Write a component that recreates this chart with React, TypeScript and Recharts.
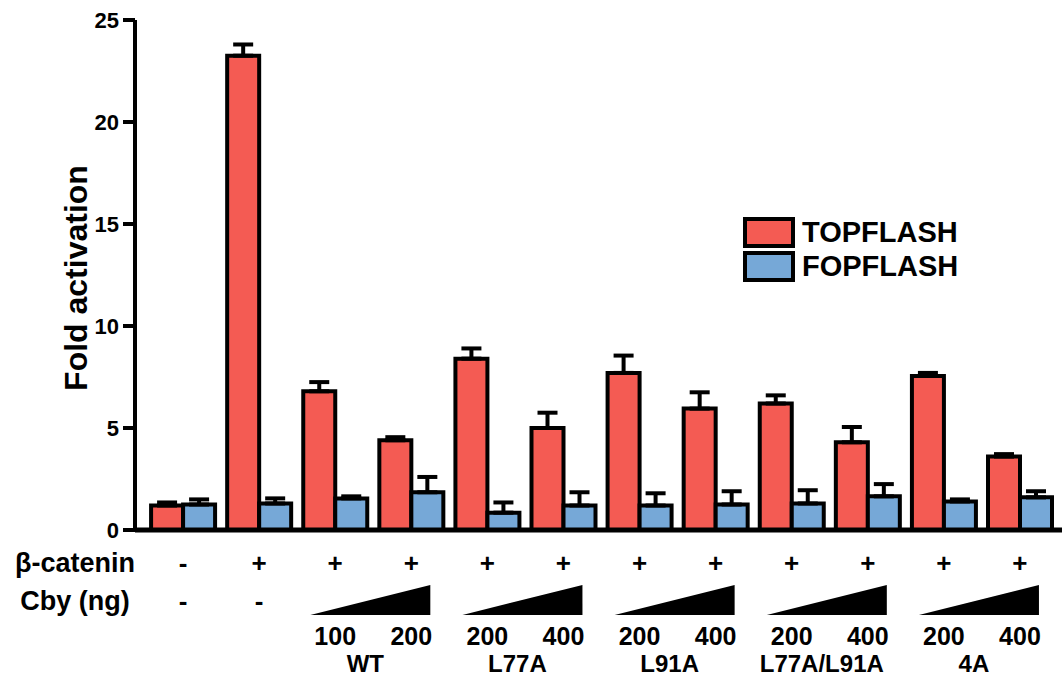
import React from "react";
import { BarChart, Bar, XAxis, YAxis, ErrorBar, Legend } from "recharts";

const betaCatenin = ["-", "+", "+", "+", "+", "+", "+", "+", "+", "+", "+", "+"];
const cbyDose = ["-", "-", "100", "200", "200", "400", "200", "400", "200", "400", "200", "400"];
const mutants = ["", "", "WT", "WT", "L77A", "L77A", "L91A", "L91A", "L77A/L91A", "L77A/L91A", "4A", "4A"];

const topflash = [1.2, 23.25, 6.8, 4.4, 8.4, 5.0, 7.7, 5.95, 6.2, 4.3, 7.55, 3.6];
const topflashErr = [0.15, 0.55, 0.45, 0.15, 0.5, 0.75, 0.85, 0.8, 0.4, 0.75, 0.15, 0.12];
const fopflash = [1.25, 1.3, 1.55, 1.85, 0.85, 1.2, 1.2, 1.25, 1.3, 1.65, 1.4, 1.6];
const fopflashErr = [0.25, 0.25, 0.1, 0.75, 0.5, 0.65, 0.6, 0.65, 0.65, 0.6, 0.1, 0.3];

const yTicks = [0, 5, 10, 15, 20, 25];

const RED = "#F45B53";
const BLUE = "#76A8D7";
const FONT = "'Liberation Sans', Arial, Helvetica, sans-serif";

const data = topflash.map((v, i) => ({
  name: String(i),
  top: v,
  topErr: [0, topflashErr[i]],
  fop: fopflash[i],
  fopErr: [0, fopflashErr[i]],
}));

const txt = { fontFamily: FONT, fontWeight: 700, fill: "#000" } as const;

const CondTick = (props: any) => {
  const { x, y, payload } = props;
  const i = Number(payload.value);
  const isPairEnd = i >= 2 && i % 2 === 1;
  return (
    <g>
      {i === 0 && (
        <>
          <text x={75} y={y + 33} textAnchor="middle" dominantBaseline="central" fontSize={27} {...txt}>
            β-catenin
          </text>
          <text x={75} y={y + 71} textAnchor="middle" dominantBaseline="central" fontSize={27} {...txt}>
            Cby (ng)
          </text>
        </>
      )}
      <text x={x} y={y + 33} textAnchor="middle" dominantBaseline="central" fontSize={26} {...txt}>
        {betaCatenin[i]}
      </text>
      {i < 2 ? (
        <text x={x} y={y + 71} textAnchor="middle" dominantBaseline="central" fontSize={26} {...txt}>
          {cbyDose[i]}
        </text>
      ) : (
        <text x={x} y={y + 106} textAnchor="middle" dominantBaseline="central" fontSize={25} {...txt}>
          {cbyDose[i]}
        </text>
      )}
      {isPairEnd && (
        <>
          <polygon points={`${x - 101},${y + 85} ${x + 19},${y + 55} ${x + 19},${y + 85}`} fill="#000" />
          <text x={x - 46} y={y + 133} textAnchor="middle" dominantBaseline="central" fontSize={24} {...txt}>
            {mutants[i]}
          </text>
        </>
      )}
    </g>
  );
};

const LegendBox = () => (
  <div style={{ fontFamily: FONT, fontWeight: 700, fontSize: 29, lineHeight: "34px" }}>
    {[
      { label: "TOPFLASH", color: RED },
      { label: "FOPFLASH", color: BLUE },
    ].map((it) => (
      <div key={it.label} style={{ display: "flex", alignItems: "center", height: 34 }}>
        <span
          style={{
            display: "inline-block",
            width: 44,
            height: 23,
            background: it.color,
            border: "4px solid #000",
            marginRight: 7,
          }}
        />
        <span>{it.label}</span>
      </div>
    ))}
  </div>
);

export default function App() {
  return (
    <div style={{ position: "absolute", left: 0, top: 0, width: 1062, height: 679, background: "#fff" }}>
      <BarChart
        width={1062}
        height={679}
        data={data}
        margin={{ top: 20, right: 0, bottom: 0, left: 0 }}
        barCategoryGap="8%"
        barGap={0}
      >
        <XAxis
          dataKey="name"
          type="category"
          interval={0}
          height={149}
          padding={{ left: 10, right: 4 }}
          axisLine={{ stroke: "#000", strokeWidth: 5 }}
          tickLine={false}
          tickSize={0}
          tickMargin={0}
          tick={(p: any) => <CondTick {...p} />}
        />
        <YAxis
          width={135}
          domain={[0, 25]}
          ticks={yTicks}
          interval={0}
          axisLine={{ stroke: "#000", strokeWidth: 4 }}
          tickLine={{ stroke: "#000", strokeWidth: 4 }}
          tickSize={12}
          tickMargin={4}
          tick={{ fontFamily: FONT, fontWeight: 700, fontSize: 22, fill: "#000" }}
          label={{
            content: (p: any) => {
              const vb = p.viewBox || {};
              const cy = (vb.y || 20) + (vb.height || 510) / 2 + 3;
              return (
                <text
                  x={76}
                  y={cy}
                  transform={`rotate(-90, 76, ${cy})`}
                  textAnchor="middle"
                  dominantBaseline="central"
                  fontSize={32}
                  {...txt}
                >
                  Fold activation
                </text>
              );
            },
          }}
        />
        <Legend
          layout="horizontal"
          verticalAlign="middle"
          align="center"
          wrapperStyle={{ top: 215, left: 743, width: "auto" }}
          content={() => <LegendBox />}
        />
        <Bar dataKey="top" fill={RED} stroke="#000" strokeWidth={4} isAnimationActive={false}>
          <ErrorBar dataKey="topErr" direction="y" width={10} stroke="#000" strokeWidth={4} />
        </Bar>
        <Bar dataKey="fop" fill={BLUE} stroke="#000" strokeWidth={4} isAnimationActive={false}>
          <ErrorBar dataKey="fopErr" direction="y" width={10} stroke="#000" strokeWidth={4} />
        </Bar>
      </BarChart>
    </div>
  );
}
